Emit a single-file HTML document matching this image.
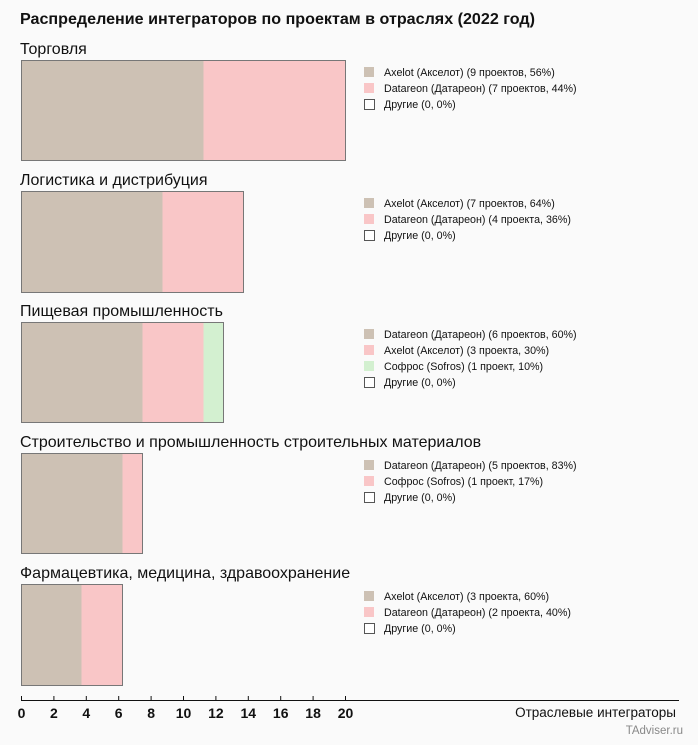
<!DOCTYPE html>
<html><head><meta charset="utf-8"><style>
body{margin:0;background:#fafafa;}
svg text{font-family:"Liberation Sans",sans-serif;}
</style></head><body>
<svg width="698" height="740" xmlns="http://www.w3.org/2000/svg">
<rect width="698" height="740" fill="#fafafa"/>
<text x="20" y="24" font-size="16.1" font-weight="bold" fill="#111">Распределение интеграторов по проектам в отраслях (2022 год)</text>
<g font-size="16" fill="#111">
<text x="20" y="54">Торговля</text>
<text x="20" y="185">Логистика и дистрибуция</text>
<text x="20" y="316">Пищевая промышленность</text>
<text x="20" y="447">Строительство и промышленность строительных материалов</text>
<text x="20" y="578">Фармацевтика, медицина, здравоохранение</text>
</g>
<rect x="21.5" y="60.5" width="182" height="100" fill="#cdc1b4"/><rect x="203.5" y="60.5" width="142" height="100" fill="#f9c6c7"/><rect x="21.5" y="60.5" width="324" height="100" fill="none" stroke="#777"/>
<rect x="21.5" y="191.5" width="141" height="101" fill="#cdc1b4"/><rect x="162.5" y="191.5" width="81" height="101" fill="#f9c6c7"/><rect x="21.5" y="191.5" width="222" height="101" fill="none" stroke="#777"/>
<rect x="21.5" y="322.5" width="121" height="100" fill="#cdc1b4"/><rect x="142.5" y="322.5" width="61" height="100" fill="#f9c6c7"/><rect x="203.5" y="322.5" width="20" height="100" fill="#d3f0d0"/><rect x="21.5" y="322.5" width="202" height="100" fill="none" stroke="#777"/>
<rect x="21.5" y="453.5" width="101" height="100" fill="#cdc1b4"/><rect x="122.5" y="453.5" width="20" height="100" fill="#f9c6c7"/><rect x="21.5" y="453.5" width="121" height="100" fill="none" stroke="#777"/>
<rect x="21.5" y="584.5" width="60" height="101" fill="#cdc1b4"/><rect x="81.5" y="584.5" width="41" height="101" fill="#f9c6c7"/><rect x="21.5" y="584.5" width="101" height="101" fill="none" stroke="#777"/>
<g font-size="10.7" fill="#111">
<rect x="364" y="67" width="10" height="10" fill="#cdc1b4"/><text x="384" y="76">Axelot (Акселот) (9 проектов, 56%)</text>
<rect x="364" y="83" width="10" height="10" fill="#f9c6c7"/><text x="384" y="92">Datareon (Датареон) (7 проектов, 44%)</text>
<rect x="364.5" y="99.5" width="10" height="10" fill="#fff" stroke="#555"/><text x="384" y="108">Другие (0, 0%)</text>

<rect x="364" y="198" width="10" height="10" fill="#cdc1b4"/><text x="384" y="207">Axelot (Акселот) (7 проектов, 64%)</text>
<rect x="364" y="214" width="10" height="10" fill="#f9c6c7"/><text x="384" y="223">Datareon (Датареон) (4 проекта, 36%)</text>
<rect x="364.5" y="230.5" width="10" height="10" fill="#fff" stroke="#555"/><text x="384" y="239">Другие (0, 0%)</text>

<rect x="364" y="329" width="10" height="10" fill="#cdc1b4"/><text x="384" y="338">Datareon (Датареон) (6 проектов, 60%)</text>
<rect x="364" y="345" width="10" height="10" fill="#f9c6c7"/><text x="384" y="354">Axelot (Акселот) (3 проекта, 30%)</text>
<rect x="364" y="361" width="10" height="10" fill="#d3f0d0"/><text x="384" y="370">Софрос (Sofros) (1 проект, 10%)</text>
<rect x="364.5" y="377.5" width="10" height="10" fill="#fff" stroke="#555"/><text x="384" y="386">Другие (0, 0%)</text>

<rect x="364" y="460" width="10" height="10" fill="#cdc1b4"/><text x="384" y="469">Datareon (Датареон) (5 проектов, 83%)</text>
<rect x="364" y="476" width="10" height="10" fill="#f9c6c7"/><text x="384" y="485">Софрос (Sofros) (1 проект, 17%)</text>
<rect x="364.5" y="492.5" width="10" height="10" fill="#fff" stroke="#555"/><text x="384" y="501">Другие (0, 0%)</text>

<rect x="364" y="591" width="10" height="10" fill="#cdc1b4"/><text x="384" y="600">Axelot (Акселот) (3 проекта, 60%)</text>
<rect x="364" y="607" width="10" height="10" fill="#f9c6c7"/><text x="384" y="616">Datareon (Датареон) (2 проекта, 40%)</text>
<rect x="364.5" y="623.5" width="10" height="10" fill="#fff" stroke="#555"/><text x="384" y="632">Другие (0, 0%)</text>
</g>
<line x1="21" y1="700.5" x2="679" y2="700.5" stroke="#111"/>
<g stroke="#111">
<line x1="21.5" y1="696" x2="21.5" y2="701"/><line x1="53.9" y1="696" x2="53.9" y2="701"/><line x1="86.3" y1="696" x2="86.3" y2="701"/><line x1="118.7" y1="696" x2="118.7" y2="701"/><line x1="151.1" y1="696" x2="151.1" y2="701"/><line x1="183.5" y1="696" x2="183.5" y2="701"/><line x1="215.9" y1="696" x2="215.9" y2="701"/><line x1="248.3" y1="696" x2="248.3" y2="701"/><line x1="280.7" y1="696" x2="280.7" y2="701"/><line x1="313.1" y1="696" x2="313.1" y2="701"/><line x1="345.5" y1="696" x2="345.5" y2="701"/>
</g>
<g font-size="14" font-weight="bold" fill="#111" text-anchor="middle">
<text x="21.5" y="718">0</text><text x="53.9" y="718">2</text><text x="86.3" y="718">4</text><text x="118.7" y="718">6</text><text x="151.1" y="718">8</text><text x="183.5" y="718">10</text><text x="215.9" y="718">12</text><text x="248.3" y="718">14</text><text x="280.7" y="718">16</text><text x="313.1" y="718">18</text><text x="345.5" y="718">20</text>
</g>
<text x="676" y="717" font-size="13.5" fill="#111" text-anchor="end">Отраслевые интеграторы</text>
<text x="683" y="734" font-size="11.5" fill="#888" text-anchor="end">TAdviser.ru</text>
</svg>
</body></html>
